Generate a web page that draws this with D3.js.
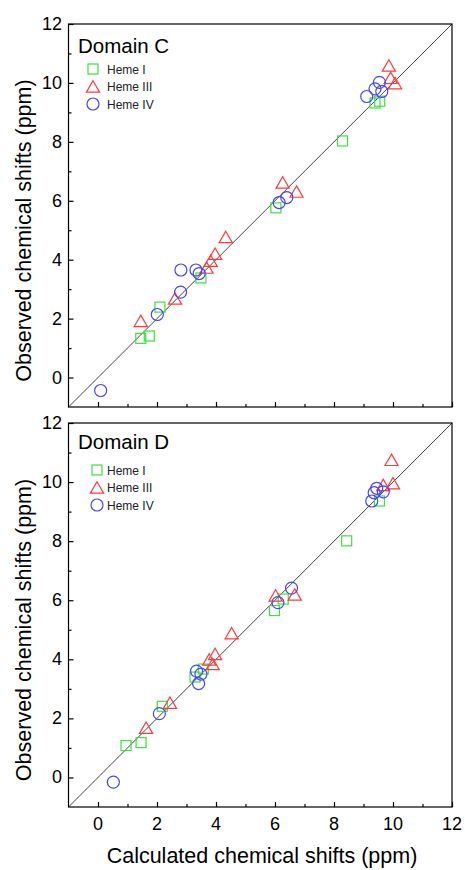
<!DOCTYPE html>
<html>
<head>
<meta charset="utf-8">
<script src="https://cdn.jsdelivr.net/npm/d3@7/dist/d3.min.js"></script>
<style>
  html, body { margin: 0; padding: 0; background: #fff; }
  svg { display: block; font-family: "Liberation Sans", Arial, sans-serif; }
</style>
</head>
<body>
<svg id="chart" width="465" height="870"></svg>
<script>
// Axis ticks (ppm)
const majorTicks = [0, 2, 4, 6, 8, 10, 12];
const minorTicks = [-1, 1, 3, 5, 7, 9, 11];
const axisDomain = [-1, 12];

const seriesNames = ["Heme I", "Heme III", "Heme IV"];
const seriesColors = ["#3fe03f", "#ff3a3a", "#4646f5"];
const seriesShapes = ["square", "triangle", "circle"];

// Domain C: [calculated, observed] shifts (ppm)
const domainC_hemeI = [
  [1.45, 1.33], [1.74, 1.41], [2.10, 2.39], [3.49, 3.38],
  [6.03, 5.76], [8.29, 8.03], [9.39, 9.32], [9.55, 9.38]
];
const domainC_hemeIII = [
  [1.45, 1.92], [2.61, 2.68], [3.68, 3.73], [3.82, 3.96], [3.97, 4.20],
  [4.33, 4.77], [6.26, 6.62], [6.73, 6.31], [9.86, 10.59], [9.92, 10.17], [10.07, 9.99]
];
const domainC_hemeIV = [
  [0.09, -0.44], [2.01, 2.14], [2.80, 2.90], [2.81, 3.65], [3.32, 3.65], [3.43, 3.53],
  [6.14, 5.94], [6.40, 6.11], [9.11, 9.54], [9.39, 9.80], [9.54, 10.02], [9.62, 9.71]
];

// Domain D: [calculated, observed] shifts (ppm)
const domainD_hemeI = [
  [0.95, 1.08], [1.46, 1.18], [2.18, 2.41], [3.29, 3.40], [3.57, 3.67],
  [5.98, 5.65], [6.28, 6.04], [8.43, 8.01], [9.54, 9.36]
];
const domainD_hemeIII = [
  [1.63, 1.68], [2.44, 2.53], [3.77, 3.99], [3.89, 3.84], [3.97, 4.18],
  [4.53, 4.88], [6.02, 6.16], [6.67, 6.19], [9.67, 9.90], [9.95, 10.75], [10.00, 9.96]
];
const domainD_hemeIV = [
  [0.52, -0.16], [2.08, 2.16], [3.34, 3.60], [3.49, 3.50], [3.41, 3.18],
  [6.10, 5.92], [6.56, 6.41], [9.28, 9.36], [9.36, 9.64], [9.45, 9.79], [9.67, 9.67]
];

const panels = [
  { title: "Domain C", series: [domainC_hemeI, domainC_hemeIII, domainC_hemeIV], top: 24, bottom: 407, legendY: 69, legendX: 93, titleY: 53, showX: false },
  { title: "Domain D", series: [domainD_hemeI, domainD_hemeIII, domainD_hemeIV], top: 423, bottom: 807, legendY: 470, legendX: 97, titleY: 449, showX: true }
];

const left = 68.5, right = 452;
const svg = d3.select("#chart");

const x = d3.scaleLinear().domain(axisDomain).range([left, right]);

function marker(sel, shape, color) {
  if (shape === "square") {
    sel.append("rect").attr("x", -5).attr("y", -5).attr("width", 10).attr("height", 10);
  } else if (shape === "triangle") {
    sel.append("path").attr("d", "M0,-5.8L6.6,5.6L-6.6,5.6Z");
  } else {
    sel.append("circle").attr("r", 6);
  }
  sel.selectAll("*").attr("fill", "none").attr("stroke", color).attr("stroke-width", 1.2);
}

panels.forEach(p => {
  const y = d3.scaleLinear().domain(axisDomain).range([p.bottom, p.top]);
  const g = svg.append("g");

  // y = x reference line
  g.append("line")
    .attr("x1", x(axisDomain[0])).attr("y1", y(axisDomain[0]))
    .attr("x2", x(axisDomain[1])).attr("y2", y(axisDomain[1]))
    .attr("stroke", "#444").attr("stroke-width", 1);

  // data points
  p.series.forEach((data, i) => {
    data.forEach(d => {
      const m = g.append("g").attr("transform", `translate(${x(d[0])},${y(d[1])})`);
      marker(m, seriesShapes[i], seriesColors[i]);
    });
  });

  // frame
  g.append("rect")
    .attr("x", left).attr("y", p.top)
    .attr("width", right - left).attr("height", p.bottom - p.top)
    .attr("fill", "none").attr("stroke", "#000").attr("stroke-width", 1.2);

  // left axis: inward ticks
  g.append("g").attr("transform", `translate(${left},0)`)
    .call(d3.axisRight(y).tickValues(majorTicks).tickSize(5).tickFormat(""))
    .call(s => s.select(".domain").remove())
    .call(s => s.selectAll("line").attr("stroke-width", 1.2));
  g.append("g").attr("transform", `translate(${left},0)`)
    .call(d3.axisRight(y).tickValues(minorTicks.filter(v => v > axisDomain[0])).tickSize(3).tickFormat(""))
    .call(s => s.select(".domain").remove())
    .call(s => s.selectAll("line").attr("stroke-width", 1.2));
  g.selectAll(".ylab").data(majorTicks).enter().append("text")
    .attr("x", 62).attr("y", d => y(d) + 6)
    .attr("text-anchor", "end").attr("font-size", 18).attr("fill", "#000")
    .text(d => d);

  // bottom axis: inward ticks
  g.append("g").attr("transform", `translate(0,${p.bottom})`)
    .call(d3.axisTop(x).tickValues(majorTicks).tickSize(5).tickFormat(""))
    .call(s => s.select(".domain").remove())
    .call(s => s.selectAll("line").attr("stroke-width", 1.2));
  g.append("g").attr("transform", `translate(0,${p.bottom})`)
    .call(d3.axisTop(x).tickValues(minorTicks.filter(v => v > axisDomain[0])).tickSize(3).tickFormat(""))
    .call(s => s.select(".domain").remove())
    .call(s => s.selectAll("line").attr("stroke-width", 1.2));
  if (p.showX) {
    g.selectAll(".xlab").data(majorTicks).enter().append("text")
      .attr("x", d => x(d)).attr("y", p.bottom + 23)
      .attr("text-anchor", "middle").attr("font-size", 18).attr("fill", "#000")
      .text(d => d);
  }

  // y-axis title
  g.append("text")
    .attr("transform", `translate(31,${(p.top + p.bottom) / 2 + 15}) rotate(-90)`)
    .attr("text-anchor", "middle").attr("font-size", 21.5).attr("fill", "#000")
    .text("Observed chemical shifts (ppm)");

  // panel title
  g.append("text").attr("x", 78).attr("y", p.titleY)
    .attr("font-size", 20.5).attr("fill", "#000").text(p.title);

  // legend
  seriesNames.forEach((name, i) => {
    const ly = p.legendY + i * 17.5;
    const m = g.append("g").attr("transform", `translate(${p.legendX},${ly})`);
    marker(m, seriesShapes[i], seriesColors[i]);
    g.append("text").attr("x", 107).attr("y", ly + 4.5)
      .attr("font-size", 12).attr("fill", "#222").text(name);
  });
});

// x-axis title
svg.append("text")
  .attr("x", 262).attr("y", 863)
  .attr("text-anchor", "middle").attr("font-size", 21.5).attr("fill", "#000")
  .text("Calculated chemical shifts (ppm)");
</script>
</body>
</html>
